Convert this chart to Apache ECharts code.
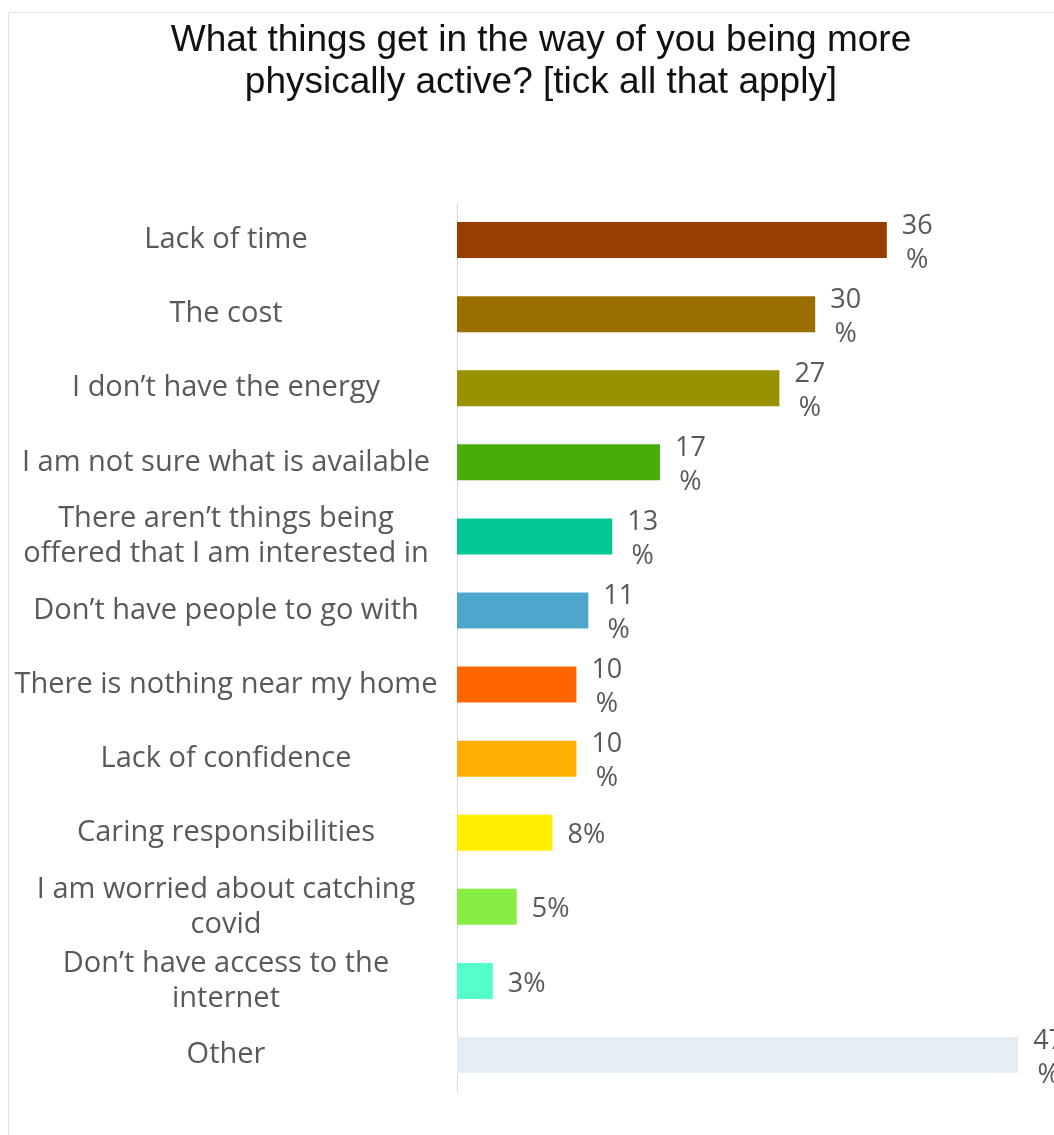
<!DOCTYPE html>
<html>
<head>
<meta charset="utf-8">
<script src="https://cdn.jsdelivr.net/npm/echarts@6/dist/echarts.min.js"></script>
<style>
  html, body { margin: 0; padding: 0; background: #fff; }
  #chart { width: 1054px; height: 1135px; }
</style>
</head>
<body>
<div id="chart"></div>
<script>
// Survey answers, top to bottom
const categories = [
  'Lack of time',
  'The cost',
  'I don\u2019t have the energy',
  'I am not sure what is available',
  'There aren\u2019t things being\noffered that I am interested in',
  'Don\u2019t have people to go with',
  'There is nothing near my home',
  'Lack of confidence',
  'Caring responsibilities',
  'I am worried about catching\ncovid',
  'Don\u2019t have access to the\ninternet',
  'Other'
];
// Share of respondents (%)
const values = [36, 30, 27, 17, 13, 11, 10, 10, 8, 5, 3, 47];
const barColors = [
  '#9a3d00', '#9a6f00', '#989100', '#48ac0b', '#00c996', '#4ea6cc',
  '#ff6600', '#ffb000', '#ffee00', '#88ee44', '#55ffcc', '#e5eef5'
];

const labelFont = 'Open Sans';
const chart = echarts.init(document.getElementById('chart'));

chart.setOption({
  backgroundColor: '#ffffff',
  animation: false,
  graphic: [{
    type: 'rect',
    shape: { x: 8.5, y: 12.5, width: 1200, height: 1300 },
    style: { fill: 'none', stroke: '#e3e3e3', lineWidth: 1 },
    silent: true
  }],
  title: {
    text: 'What things get in the way of you being more\nphysically active? [tick all that apply]',
    left: 536,
    textAlign: 'center',
    top: 15,
    textStyle: {
      fontFamily: 'Liberation Sans',
      fontSize: 37,
      fontWeight: 'normal',
      color: '#111111',
      lineHeight: 42
    }
  },
  grid: {
    left: 457,
    top: 203,
    width: 600,
    height: 889,
    containLabel: false
  },
  xAxis: {
    type: 'value',
    min: 0,
    max: 50,
    show: false
  },
  yAxis: {
    type: 'category',
    data: categories,
    inverse: true,
    axisLine: { show: true, lineStyle: { color: '#d9d9d9', width: 1 } },
    axisTick: { show: false },
    axisLabel: {
      margin: 231,
      align: 'center',
      color: '#595959',
      fontFamily: labelFont,
      fontSize: 29,
      lineHeight: 35,
      padding: [4, 0, 0, 0]
    }
  },
  series: [{
    type: 'bar',
    data: values.map((v, i) => ({ value: v, itemStyle: { color: barColors[i] } })),
    barWidth: 36,
    label: {
      show: true,
      position: 'right',
      distance: 15,
      color: '#595959',
      fontFamily: labelFont,
      fontSize: 27,
      padding: [6, 0, 0, 0],
      formatter: p => p.value >= 10 ? '{v|' + p.value + '}\n{v|%}' : '{s|' + p.value + '%}',
      rich: {
        v: { align: 'center', color: '#595959', fontFamily: labelFont, fontSize: 27, lineHeight: 34 },
        s: { color: '#595959', fontFamily: labelFont, fontSize: 27, lineHeight: 34 }
      }
    }
  }]
});
</script>
</body>
</html>
